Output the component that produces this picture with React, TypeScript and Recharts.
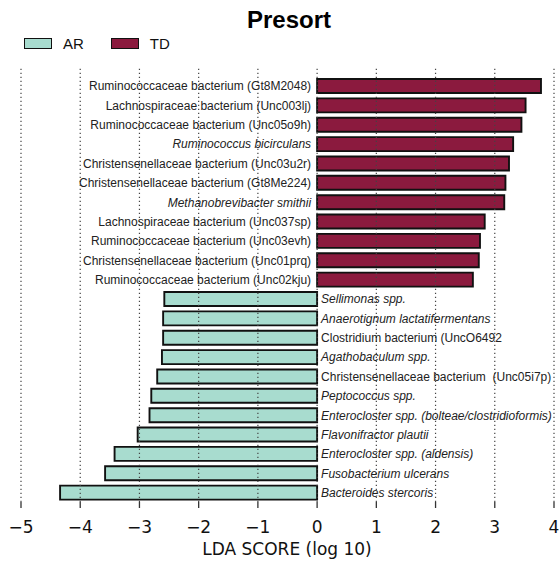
import React from "react";
import {
  Bar,
  BarChart,
  Cell,
  LabelList,
  Legend,
  ReferenceLine,
  XAxis,
  YAxis,
} from "recharts";

// TD-enriched taxa, top to bottom
const tdNames = [
  "Ruminococcaceae bacterium (Gt8M2048)",
  "Lachnospiraceae bacterium (Unc003lj)",
  "Ruminococcaceae bacterium (Unc05o9h)",
  "Ruminococcus bicirculans",
  "Christensenellaceae bacterium (Unc03u2r)",
  "Christensenellaceae bacterium (Gt8Me224)",
  "Methanobrevibacter smithii",
  "Lachnospiraceae bacterium (Unc037sp)",
  "Ruminococcaceae bacterium (Unc03evh)",
  "Christensenellaceae bacterium (Unc01prq)",
  "Ruminococcaceae bacterium (Unc02kju)",
];
const tdScores = [3.78, 3.52, 3.45, 3.31, 3.24, 3.18, 3.16, 2.83, 2.75, 2.73, 2.63];

// AR-enriched taxa, top to bottom
const arNames = [
  "Sellimonas spp.",
  "Anaerotignum lactatifermentans",
  "Clostridium bacterium (UncO6492",
  "Agathobaculum spp.",
  "Christensenellaceae bacterium  (Unc05i7p)",
  "Peptococcus spp.",
  "Enterocloster spp. (bolteae/clostridioformis)",
  "Flavonifractor plautii",
  "Enterocloster spp. (aldensis)",
  "Fusobacterium ulcerans",
  "Bacteroides stercoris",
];
const arScores = [-2.58, -2.6, -2.6, -2.62, -2.7, -2.8, -2.83, -3.03, -3.42, -3.58, -4.34];

const italicNames = [
  "Ruminococcus bicirculans",
  "Methanobrevibacter smithii",
  "Sellimonas spp.",
  "Anaerotignum lactatifermentans",
  "Agathobaculum spp.",
  "Peptococcus spp.",
  "Enterocloster spp. (bolteae/clostridioformis)",
  "Flavonifractor plautii",
  "Enterocloster spp. (aldensis)",
  "Fusobacterium ulcerans",
  "Bacteroides stercoris",
];

const xTicks = [-5, -4, -3, -2, -1, 0, 1, 2, 3, 4];

const groups = [
  { key: "AR", color: "#a8dccf" },
  { key: "TD", color: "#8b1a3e" },
];

const rows = [
  ...tdNames.map((name, i) => ({ name, score: tdScores[i], group: "TD" })),
  ...arNames.map((name, i) => ({ name, score: arScores[i], group: "AR" })),
];

const colorOf = (g: string) => groups.find((x) => x.key === g)?.color ?? "#999";

const fmtTick = (v: number) => (v < 0 ? "\u2212" + Math.abs(v) : String(v));

function NameLabel(props: any) {
  const vb = props.viewBox ?? {};
  const x = Number(vb.x ?? props.x);
  const y = Number(vb.y ?? props.y);
  const w = Number(vb.width ?? props.width);
  const h = Number(vb.height ?? props.height);
  const row = rows[props.index] ?? rows.find((r) => r.name === props.value);
  if (!row) return null;
  const left = Math.min(x, x + w);
  const right = Math.max(x, x + w);
  const positive = row.score >= 0;
  return (
    <text
      x={positive ? left - 6 : right + 4}
      y={y + h / 2}
      dy="0.36em"
      textAnchor={positive ? "end" : "start"}
      fontSize={12}
      fontFamily="'Liberation Sans', Arial, sans-serif"
      fontStyle={italicNames.includes(row.name) ? "italic" : "normal"}
      fill="#222"
      style={{ whiteSpace: "pre" }}
    >
      {row.name}
    </text>
  );
}

function LegendBoxes() {
  return (
    <div
      style={{
        display: "flex",
        alignItems: "center",
        fontFamily: "'Liberation Sans', Arial, sans-serif",
        fontSize: 15,
        color: "#111",
      }}
    >
      {groups.map((g) => (
        <div key={g.key} style={{ display: "flex", alignItems: "center", marginRight: 27 }}>
          <div
            style={{
              width: 26,
              height: 9,
              background: g.color,
              border: "1.6px solid #111",
              marginRight: 11,
            }}
          />
          <span>{g.key}</span>
        </div>
      ))}
    </div>
  );
}

export default function App() {
  return (
    <div style={{ position: "absolute", left: 0, top: 0, width: 560, height: 563, background: "#fff" }}>
      <BarChart
        width={560}
        height={563}
        data={rows}
        layout="vertical"
        margin={{ top: 66, right: 6, bottom: 21, left: 21 }}
      >
        <XAxis
          type="number"
          domain={[-5, 4]}
          ticks={xTicks}
          allowDataOverflow
          axisLine={false}
          tickSize={6}
          tickMargin={13}
          height={40}
          tickLine={{ stroke: "#333", strokeWidth: 1.3 }}
          tickFormatter={fmtTick}
          tick={{ fontSize: 17, fill: "#111", fontFamily: "'DejaVu Sans', sans-serif" }}
        />
        <XAxis
          xAxisId="top"
          orientation="top"
          type="number"
          domain={[-5, 4]}
          ticks={xTicks}
          height={1}
          axisLine={false}
          mirror
          tick={false}
          tickSize={5}
          tickLine={{ stroke: "#333", strokeWidth: 1.3 }}
        />
        <YAxis type="category" dataKey="name" hide padding={{ top: 10, bottom: 0 }} />
        <Legend
          layout="horizontal"
          verticalAlign="middle"
          align="center"
          wrapperStyle={{ position: "absolute", top: 35, left: 24, width: 260, height: 16 }}
          content={() => <LegendBoxes />}
        />
        <Bar dataKey="score" barSize={14} stroke="#111" strokeWidth={1.9} isAnimationActive={false}>
          {rows.map((r) => (
            <Cell key={r.name} fill={colorOf(r.group)} />
          ))}
          <LabelList dataKey="name" content={NameLabel} />
        </Bar>
        {xTicks.map((t) => (
          <ReferenceLine
            key={t}
            x={t}
            stroke="#444"
            strokeWidth={1.2}
            strokeDasharray="1.3 2.7"
          />
        ))}
      </BarChart>
      <svg
        width={560}
        height={563}
        style={{ position: "absolute", left: 0, top: 0, pointerEvents: "none" }}
      >
        <text
          x={289}
          y={28}
          textAnchor="middle"
          fontSize={24}
          fontWeight="bold"
          fontFamily="'Liberation Sans', Arial, sans-serif"
          fill="#000"
        >
          Presort
        </text>
        <text
          x={287}
          y={555}
          textAnchor="middle"
          fontSize={17}
          fontFamily="'DejaVu Sans', sans-serif"
          fill="#111"
        >
          LDA SCORE (log 10)
        </text>
      </svg>
    </div>
  );
}
